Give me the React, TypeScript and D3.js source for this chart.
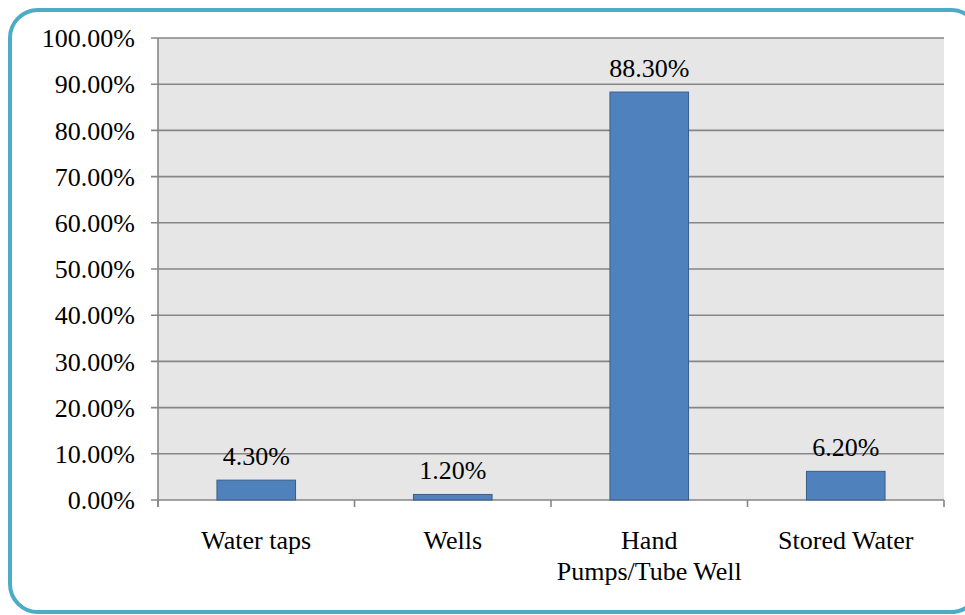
import React from "react";
import * as d3 from "d3";

const categories: string[][] = [["Water taps"], ["Wells"], ["Hand", "Pumps/Tube Well"], ["Stored Water"]];
const values: number[] = [4.3, 1.2, 88.3, 6.2];
const labels: string[] = ["4.30%", "1.20%", "88.30%", "6.20%"];
const yTicks: number[] = [0, 10, 20, 30, 40, 50, 60, 70, 80, 90, 100];

const W = 965, H = 615;
const L = 158, R = 944, T = 38, B = 500;
const FONT = "Liberation Serif, Times New Roman, serif";

export default function App() {
  const y = d3.scaleLinear().domain([0, 100]).range([B, T]);
  const x = d3.scaleBand<number>().domain(d3.range(values.length)).range([L, R]).paddingInner(0.6).paddingOuter(0.3);
  const bounds = d3.range(values.length + 1).map((i) => L + i * ((R - L) / values.length));
  return (
    <div style={{ position: "absolute", left: 0, top: 0 }}>
      <svg width={W} height={H} style={{ display: "block" }}>
        <rect x={0} y={0} width={W} height={H} fill="#ffffff" />
        <rect x={10} y={10} width={969} height={602} rx={28} ry={28} fill="#ffffff" stroke="#4bacc6" strokeWidth={4} />
        <rect x={L} y={T} width={R - L} height={B - T} fill="#e6e6e6" />
        {yTicks.map((t) => (
          <g key={t}>
            <line x1={151} x2={R} y1={y(t)} y2={y(t)} stroke="#868686" strokeWidth={1.6} />
            <text x={135} y={y(t)} dy="0.35em" textAnchor="end" fontFamily={FONT} fontSize={26} fill="#000">
              {t.toFixed(2)}%
            </text>
          </g>
        ))}
        <line x1={L} x2={L} y1={T} y2={B + 7} stroke="#868686" strokeWidth={1.6} />
        {bounds.map((b, i) => (
          <line key={i} x1={b} x2={b} y1={B} y2={B + 7} stroke="#868686" strokeWidth={1.6} />
        ))}
        {values.map((v, i) => (
          <g key={i}>
            <rect x={x(i)} y={y(v)} width={x.bandwidth()} height={B - y(v)} fill="#4f81bd" stroke="#385d8a" strokeWidth={1} />
            <text x={(x(i) as number) + x.bandwidth() / 2} y={y(v) - 15} textAnchor="middle" fontFamily={FONT} fontSize={26} fill="#000">
              {labels[i]}
            </text>
            {categories[i].map((line, j) => (
              <text key={j} x={(x(i) as number) + x.bandwidth() / 2} y={549 + j * 31} textAnchor="middle" fontFamily={FONT} fontSize={26} fill="#000">
                {line}
              </text>
            ))}
          </g>
        ))}
      </svg>
    </div>
  );
}
